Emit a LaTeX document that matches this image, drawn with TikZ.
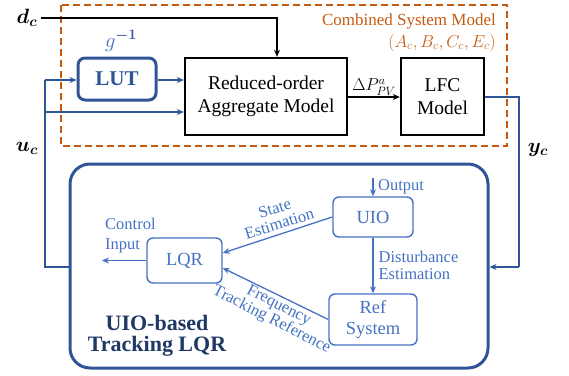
\documentclass[tikz,border=0pt]{standalone}
\usepackage{amsmath}
\usepackage{bm}
\usepackage{fontspec}
\setmainfont{Liberation Serif}
\usetikzlibrary{arrows.meta}
\definecolor{cblue}{RGB}{68,114,196}
\definecolor{dblue}{RGB}{47,85,151}
\definecolor{ndark}{RGB}{31,56,100}
\definecolor{corange}{RGB}{197,90,17}
\tikzset{
  kbox/.style={draw=black, line width=2.4pt, align=center, inner sep=0pt, font=\fontsize{19.5}{23}\selectfont},
  ibox/.style={draw=cblue, line width=1.4pt, rounded corners=6pt, align=center, inner sep=0pt, text=cblue, font=\fontsize{18.5}{21}\selectfont},
  barr/.style={draw=dblue, line width=1.3pt, -{Stealth[length=7pt,width=6pt]}},
  bline/.style={draw=dblue, line width=1.3pt},
  karr/.style={draw=black, line width=1.3pt, -{Stealth[length=7pt,width=6pt]}},
  iarr/.style={draw=cblue, line width=1.3pt, -{Stealth[length=7pt,width=6pt]}},
  ilab/.style={text=cblue, font=\fontsize{16.5}{18}\selectfont, inner sep=0pt},
  mlab/.style={font=\fontsize{22}{24}\selectfont, inner sep=0pt}
}
\begin{document}
\begin{tikzpicture}[x=1pt,y=-1pt]
\useasboundingbox (0,0) rectangle (569,375);
% dashed combined system frame
\draw[corange, line width=1.5pt, dash pattern=on 7pt off 4pt] (61,5) rectangle (507,146);
\node[text=corange, anchor=east, inner sep=0pt, font=\fontsize{17}{19}\selectfont] (csm) at (496,21) {Combined System Model};
\node[text=corange, anchor=east, inner sep=0pt, font=\fontsize{17}{19}\selectfont] (mats) at (496,43) {$(A_c,B_c,C_c,E_c)$};
% blocks
\node[kbox, minimum width=162pt, minimum height=77pt] (red) at (266,96.5) {Reduced-order\\Aggregate Model};
\node[kbox, minimum width=83pt, minimum height=77pt] (lfc) at (442.5,96.5) {LFC\\Model};
\node[draw=dblue, line width=3pt, rounded corners=7pt, minimum width=78pt, minimum height=42pt, inner sep=0pt, text=dblue, font=\bfseries\fontsize{21}{23}\selectfont] (lut) at (117,79) {LUT};
\node[mlab] (ginv) at (121,41) {$\textcolor{cblue}{g}^{\textcolor{dblue}{\boldsymbol{-1}}}$};
% labels
\node[mlab] (dc) at (27,18) {$\bm{d}_{\bm{c}}$};
\node[mlab] (uc) at (27,148) {$\bm{u}_{\bm{c}}$};
\node[mlab] (yc) at (538,150) {$\bm{y}_{\bm{c}}$};
% big box
\node[draw=dblue, line width=3pt, rounded corners=20pt, minimum width=418pt, minimum height=204pt, inner sep=0pt] (big) at (279,266) {};
\node[ibox, minimum width=80pt, minimum height=40pt] (uio) at (373,217) {UIO};
\node[ibox, minimum width=88pt, minimum height=51pt] (ref) at (373,319.5) {Ref\\System};
\node[ibox, minimum width=75pt, minimum height=45pt] (lqr) at (184.5,260.5) {LQR};
\node[text=ndark, align=center, inner sep=0pt, font=\bfseries\fontsize{22}{21}\selectfont] (title) at (157,336) {UIO-based\\Tracking LQR};
% top connectors
\draw[karr] (dc.east) ++(4pt,0) -| ([xshift=11pt]red.north);
\coordinate (ujoin) at (45,80);
\coordinate (umid) at (45,112);
\coordinate (ubot) at (45,267);
\draw[bline] (big.west |- ubot) -- (ubot) -- (ujoin);
\draw[barr] (ujoin) -- (lut.west |- ujoin);
\draw[barr] (umid) -- (red.west |- umid);
\draw[barr] (lut.east |- ujoin) -- (red.west |- ujoin);
\coordinate (dp) at (0,97);
\draw[karr] (red.east |- dp) -- node[above=1pt, inner sep=0pt, font=\fontsize{18}{20}\selectfont] {$\Delta P_{PV}^{a}$} (lfc.west |- dp);
\coordinate (ycorner) at (519,97);
\coordinate (ydown) at (519,267);
\draw[bline] (lfc.east |- dp) -- (ycorner) -- (ydown);
\draw[barr] (ydown) -- (big.east |- ydown);
% inner connectors
\coordinate (outtop) at (373,178);
\draw[iarr] (outtop) -- (uio.north);
\node[ilab, anchor=west] (outlab) at (378,187) {Output};
\draw[iarr] (uio.south) -- node[ilab, right=5pt, align=left, font=\fontsize{16.5}{17.5}\selectfont] {Disturbance\\Estimation} (ref.north);
\draw[iarr] (uio.west) -- ([yshift=7.5pt]lqr.east);
\node[ilab, align=center, rotate=17, font=\fontsize{16.5}{16}\selectfont] (selab) at (277,216) {State\\Estimation};
\draw[iarr] (ref.west) -- ([yshift=-7.5pt]lqr.east);
\node[ilab, align=center, rotate=-27, font=\fontsize{16.5}{16}\selectfont] (frlab) at (275,313) {Frequency\\Tracking Reference};
\coordinate (cin) at (102,260.5);
\draw[iarr] (lqr.west) -- (cin);
\node[ilab, align=left, anchor=west, font=\fontsize{16.5}{20}\selectfont] (cilab) at (105,236) {Control\\Input};
\end{tikzpicture}
\end{document}
